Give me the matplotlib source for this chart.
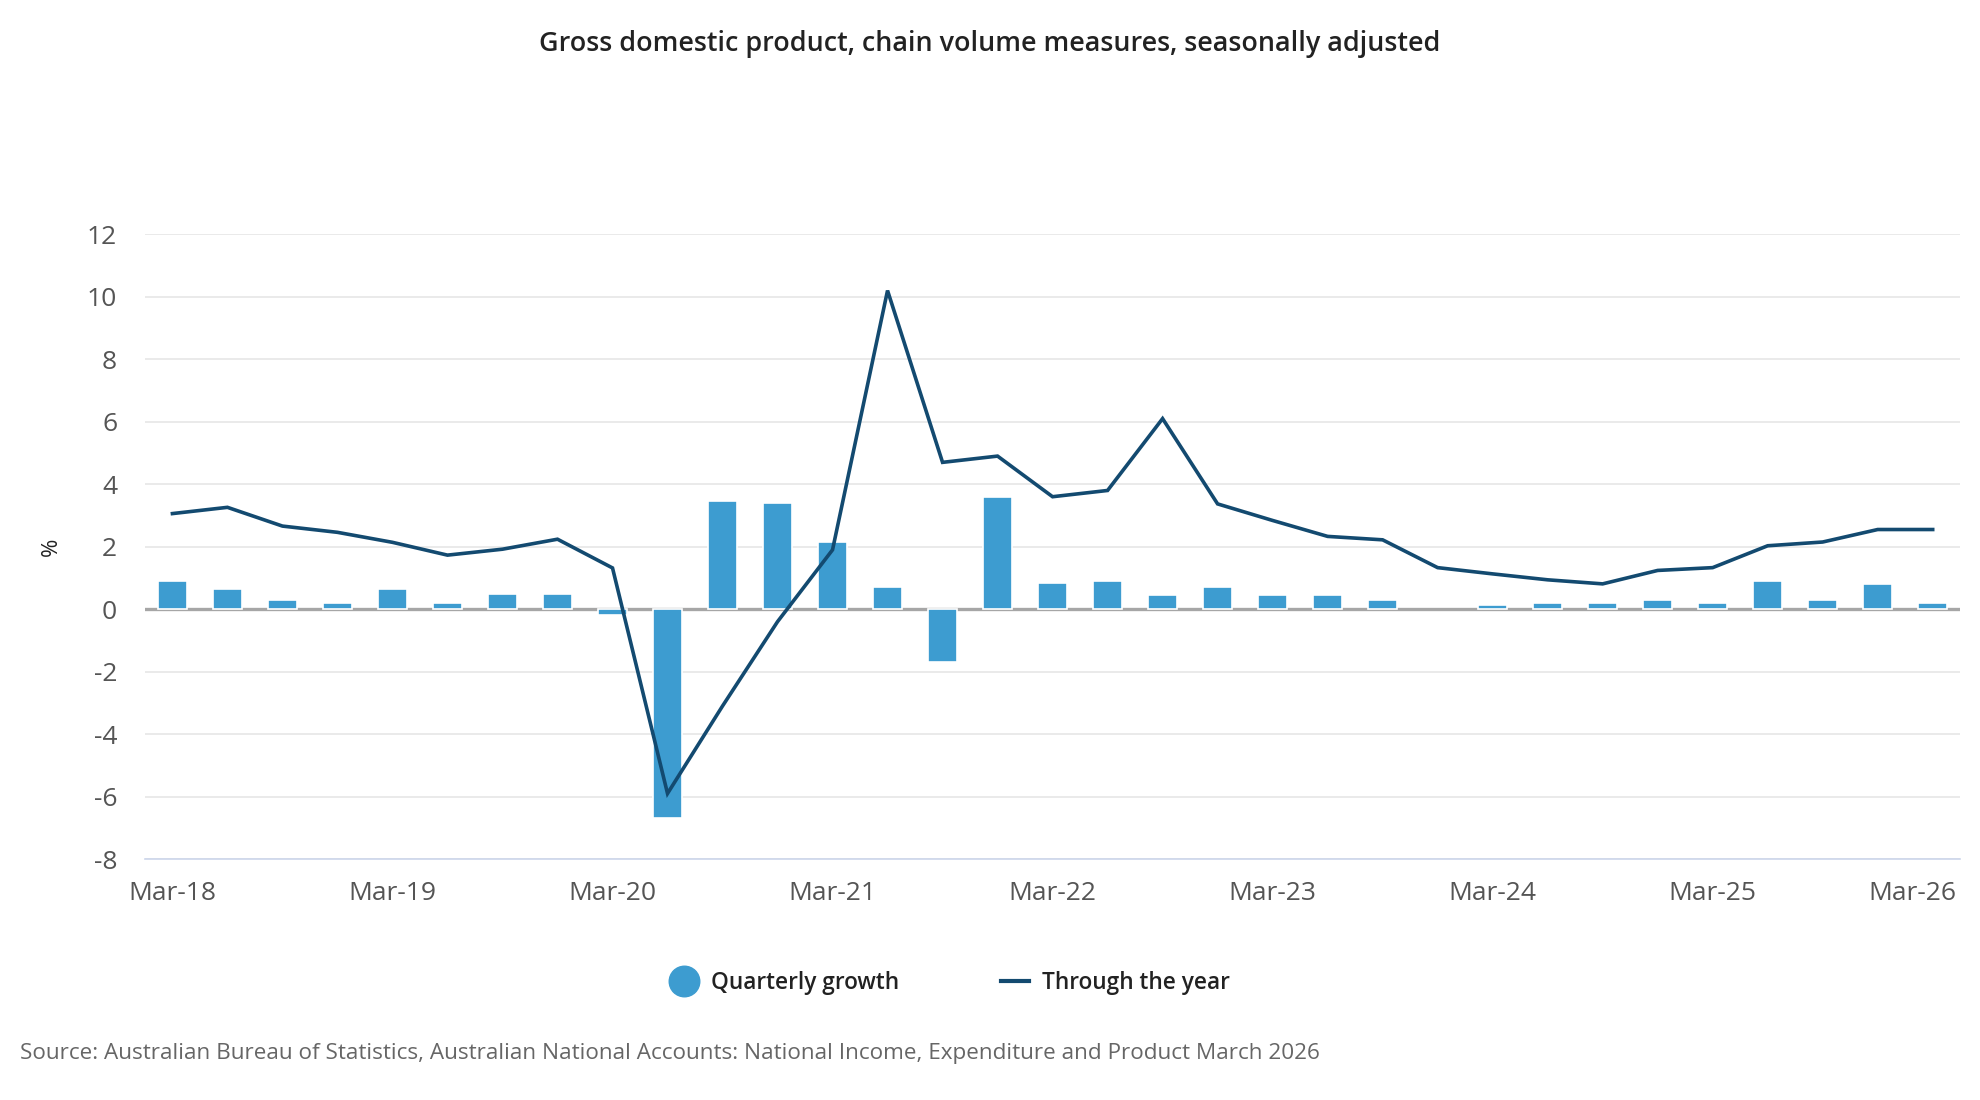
import matplotlib.pyplot as plt
from matplotlib.lines import Line2D
import matplotlib.transforms as mtransforms
import numpy as np

plt.rcParams['font.family'] = ['Open Sans', 'DejaVu Sans']
plt.rcParams['axes.unicode_minus'] = False

quarters = ['Mar', 'Jun', 'Sep', 'Dec']
periods = [f'{q}-{y:02d}' for y in range(18, 27) for q in quarters][:33]

quarterly_growth = [0.9, 0.65, 0.3, 0.2, 0.65, 0.2, 0.5, 0.5, -0.2, -6.7,
                    3.45, 3.4, 2.15, 0.7, -1.7, 3.6, 0.85, 0.9, 0.45, 0.7,
                    0.45, 0.45, 0.3, 0.0, 0.12, 0.2, 0.2, 0.3, 0.2, 0.9,
                    0.3, 0.8, 0.2]
through_year = [3.06, 3.26, 2.66, 2.46, 2.14, 1.73, 1.92, 2.24, 1.32, -5.9,
                -3.1, -0.4, 1.9, 10.2, 4.7, 4.9, 3.6, 3.8, 6.1, 3.37,
                2.84, 2.33, 2.22, 1.33, 1.13, 0.94, 0.81, 1.24, 1.33, 2.03,
                2.15, 2.55, 2.55]

bar_col = '#3d9cd0'
line_col = '#134a70'

fig = plt.figure(figsize=(19.8, 11), dpi=100)
ax = fig.add_axes([0.0732, 0.219, 0.9168, 0.568])

x = np.arange(len(periods))
ax.axhline(0, color='#a6a6a6', lw=2.4, zorder=1)
edge_w = [0 if v == 0 else 1.2 for v in quarterly_growth]
ax.bar(x, quarterly_growth, width=0.52, color=bar_col, edgecolor='white',
       linewidth=edge_w, zorder=2)
ax.plot(x, through_year, color=line_col, lw=2.6, zorder=3,
        solid_joinstyle='miter')

ax.set_xlim(-0.5, len(periods) - 0.5)
ax.set_ylim(-8, 12)
ax.set_yticks(np.arange(-8, 13, 2))
ax.set_xticks(x[::4])
ax.set_xticklabels(periods[::4])
ax.grid(axis='y', color='#e6e6e6', lw=1.2, zorder=0)
ax.set_axisbelow(True)
for s in ['top', 'right', 'left']:
    ax.spines[s].set_visible(False)
ax.spines['bottom'].set_color('#ccd6eb')
ax.spines['bottom'].set_linewidth(1.2)
ax.tick_params(axis='both', length=0, labelsize=19, colors='#555555')
ax.tick_params(axis='x', pad=16)
ax.tick_params(axis='y', pad=20)
ax.set_ylabel('%', fontsize=16, color='#222222', labelpad=18)

# keep the last date label inside the figure, as the original does
last = ax.get_xticklabels()[-1]
last.set_transform(last.get_transform() +
                   mtransforms.ScaledTranslation(-0.2, 0, fig.dpi_scale_trans))

fig.text(0.5, 1 - 44 / 1100, 'Gross domestic product, chain volume measures, seasonally adjusted',
         ha='center', va='center', fontsize=19.4, weight='semibold', color='#222222')

handles = [Line2D([], [], marker='o', ls='none', color=bar_col, markersize=22),
           Line2D([], [], color=line_col, lw=3)]
fig.legend(handles, ['Quarterly growth', 'Through the year'], loc='center',
           bbox_to_anchor=(0.48, 1 - 983 / 1100), ncol=2, frameon=False,
           handlelength=1.2, columnspacing=4.5, handletextpad=0.6,
           labelcolor='#222222', prop={'weight': 'semibold', 'size': 16.3})

fig.text(20 / 1980, 1 - 1053 / 1100,
         'Source: Australian Bureau of Statistics, Australian National Accounts: National Income, Expenditure and Product March 2026',
         ha='left', va='center', fontsize=16.2, color='#666666')

fig.savefig('out.png', dpi=100)
